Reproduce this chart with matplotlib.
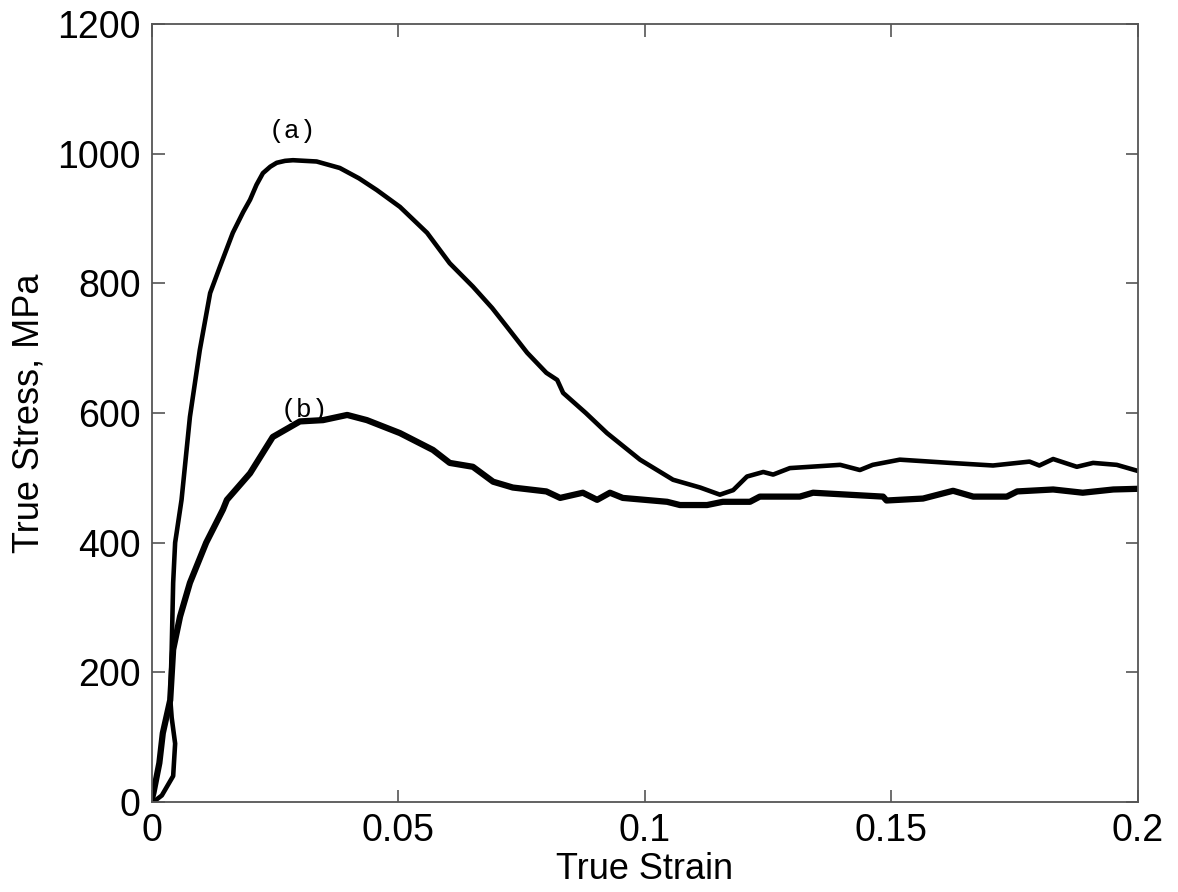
import matplotlib
matplotlib.use("Agg")
import matplotlib.pyplot as plt

plt.rcParams['font.family'] = ['Liberation Sans', 'DejaVu Sans']

# curve (a)
strain_a = [0.0003, 0.0020, 0.0043, 0.0047, 0.0040, 0.0037, 0.0040, 0.0043, 0.0047, 0.0050,
            0.0060, 0.0077, 0.0097, 0.0118, 0.0138, 0.0164, 0.0185, 0.0199, 0.0212, 0.0225,
            0.0240, 0.0253, 0.0270, 0.0286, 0.0310, 0.0334, 0.0381, 0.0420, 0.0456, 0.0503,
            0.0558, 0.0604, 0.0651, 0.0690, 0.0720, 0.0761, 0.0800, 0.0822, 0.0834, 0.0880,
            0.0923, 0.0990, 0.1057, 0.1112, 0.1152, 0.1179, 0.1207, 0.1240, 0.1260, 0.1294,
            0.1396, 0.1436, 0.1462, 0.1517, 0.1619, 0.1706, 0.1780, 0.1800, 0.1828, 0.1876,
            0.1909, 0.1957, 0.1998]
stress_a = [0, 10, 40, 90, 130, 160, 235, 338, 400, 415,
            466, 594, 697, 785, 826, 878, 910, 929, 952, 970,
            980, 986, 989, 990, 989, 988, 978, 962, 944, 918,
            878, 831, 795, 762, 733, 693, 662, 651, 631, 600,
            569, 528, 497, 485, 474, 481, 502, 509, 505, 515,
            520, 512, 520, 528, 523, 519, 525, 519, 529, 517,
            523, 520, 511]

# curve (b)
strain_b = [0.0, 0.0003, 0.0015, 0.0022, 0.0037, 0.0043, 0.0057, 0.0077, 0.0110, 0.0144,
            0.0152, 0.0199, 0.0245, 0.0300, 0.0347, 0.0396, 0.0436, 0.0503, 0.0570, 0.0604,
            0.0651, 0.0692, 0.0732, 0.0800, 0.0828, 0.0874, 0.0903, 0.0929, 0.0955, 0.1045,
            0.1071, 0.1126, 0.1158, 0.1213, 0.1233, 0.1314, 0.1341, 0.1483, 0.1490, 0.1564,
            0.1625, 0.1666, 0.1734, 0.1755, 0.1828, 0.1888, 0.1950, 0.1998]
stress_b = [5, 14, 60, 106, 157, 235, 286, 338, 400, 451,
            466, 507, 563, 587, 589, 597, 589, 569, 543, 523,
            517, 494, 485, 479, 469, 477, 466, 477, 469, 463,
            458, 458, 463, 463, 471, 471, 477, 471, 465, 468,
            480, 471, 471, 479, 482, 477, 482, 483]

x_ticks = [0, 0.05, 0.1, 0.15, 0.2]
x_ticklabels = ['0', '0.05', '0.1', '0.15', '0.2']
y_ticks = [0, 200, 400, 600, 800, 1000, 1200]

fig = plt.figure(figsize=(11.78, 8.92), dpi=100)
ax = fig.add_axes([0.129, 0.101, 0.837, 0.872])

ax.plot(strain_a, stress_a, color='black', lw=3.3, solid_joinstyle='round')
ax.plot(strain_b, stress_b, color='black', lw=4.5, solid_joinstyle='round')

ax.text(0.0285, 1035, '(a)', family='Liberation Mono', fontsize=19, ha='center', va='center')
ax.text(0.031, 604, '(b)', family='Liberation Mono', fontsize=19, ha='center', va='center')

ax.set_xlim(0, 0.2)
ax.set_ylim(0, 1200)
ax.set_xticks(x_ticks)
ax.set_xticklabels(x_ticklabels)
ax.set_yticks(y_ticks)
ax.tick_params(direction='in', top=True, right=True, labelsize=27, length=9,
               width=1.2, color='#555555', pad=8)
for s in ax.spines.values():
    s.set_color('#555555')
    s.set_linewidth(1.3)

ax.set_xlabel('True Strain', fontsize=26, labelpad=2)
ax.set_ylabel('True Stress, MPa', fontsize=26, labelpad=8)

fig.savefig('out.png', dpi=100)
